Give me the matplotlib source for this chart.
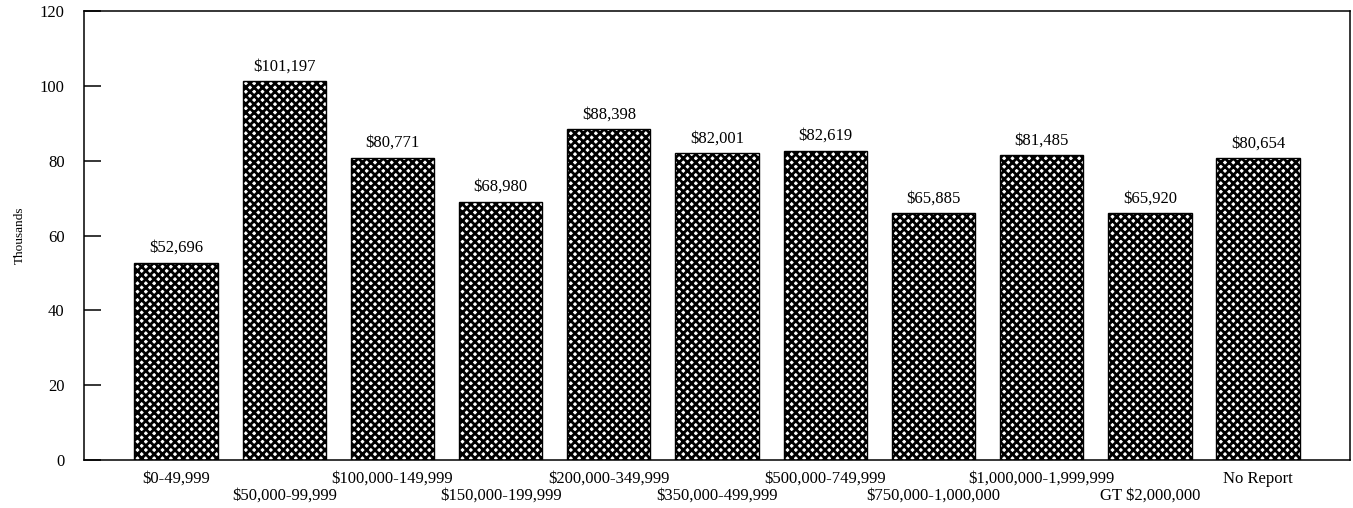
import matplotlib
matplotlib.use("Agg")
import matplotlib.pyplot as plt

## data (values in thousands of dollars)
categories = ["$0-49,999", "$50,000-99,999", "$100,000-149,999", "$150,000-199,999",
              "$200,000-349,999", "$350,000-499,999", "$500,000-749,999",
              "$750,000-1,000,000", "$1,000,000-1,999,999", "GT $2,000,000", "No Report"]
values = [52.696, 101.197, 80.771, 68.980, 88.398, 82.001, 82.619, 65.885, 81.485, 65.920, 80.654]
value_labels = ["$52,696", "$101,197", "$80,771", "$68,980", "$88,398", "$82,001",
                "$82,619", "$65,885", "$81,485", "$65,920", "$80,654"]
yticks = [0, 20, 40, 60, 80, 100, 120]

plt.rcParams['font.family'] = ['Liberation Serif', 'DejaVu Serif']
plt.rcParams['hatch.linewidth'] = 2.0

fig = plt.figure(figsize=(13.53, 5.08), dpi=100)
ax = fig.add_axes([0.0621, 0.0945, 0.9357, 0.8838])

x = list(range(len(categories)))
bars = ax.bar(x, values, width=0.77, color="white", edgecolor="black",
              hatch="xxxx", linewidth=1.0)

# value labels above each bar
for b, lab in zip(bars, value_labels):
    ax.annotate(lab, (b.get_x() + b.get_width() / 2, b.get_height()),
                xytext=(0, 5), textcoords="offset points",
                ha="center", va="bottom", fontsize=12)

## axes
ax.set_xlim(-0.85, 10.85)
ax.set_ylim(0, 120)
ax.set_yticks(yticks)
ax.set_yticklabels([str(t) for t in yticks], fontsize=12)
ax.tick_params(axis="y", direction="in", length=12, width=1.1, pad=14)

# staggered category labels: even on major ticks, odd on minor ticks further down
ax.set_xticks(x[0::2])
ax.set_xticklabels(categories[0::2], fontsize=12)
ax.set_xticks(x[1::2], minor=True)
ax.set_xticklabels(categories[1::2], minor=True, fontsize=12)
ax.tick_params(axis="x", which="major", length=0, pad=8)
ax.tick_params(axis="x", which="minor", length=0, pad=20)

for s in ax.spines.values():
    s.set_linewidth(1.1)

ax.set_ylabel("Thousands", fontsize=9.5, labelpad=10)

plt.savefig("out.png", dpi=100)
